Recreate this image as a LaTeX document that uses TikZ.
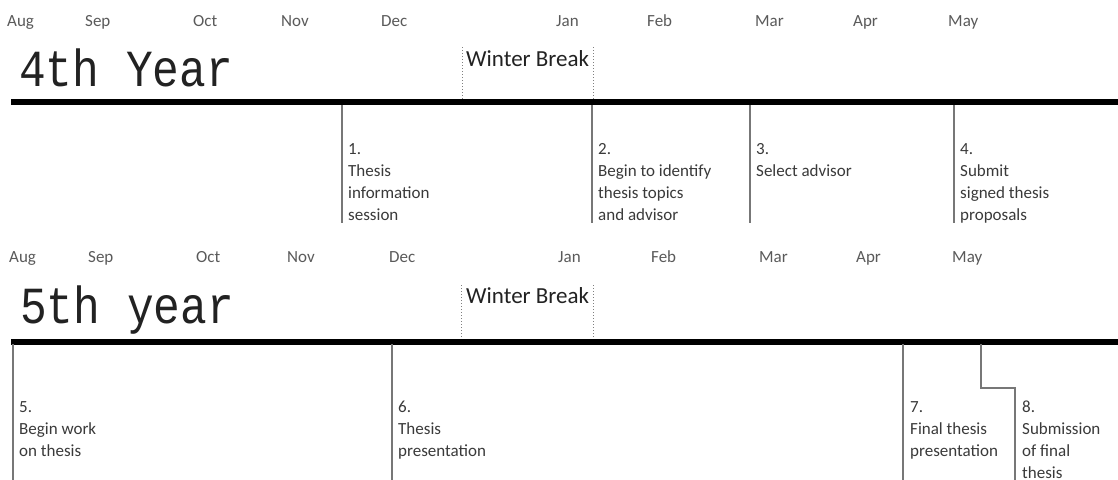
\documentclass[tikz,border=0pt]{standalone}
\usepackage{fontspec}
\setmainfont{Carlito}
\newfontfamily\titlefont{Liberation Mono}
\definecolor{monthgray}{HTML}{5A5A5A}
\definecolor{textgray}{HTML}{3A3A3A}
\definecolor{linegray}{HTML}{777777}
\definecolor{titlecol}{HTML}{222222}
\tikzset{
  monthlbl/.style={font=\fontsize{17}{17}\selectfont, text=monthgray, anchor=base west, inner sep=0pt},
  eventtxt/.style={font=\fontsize{17}{22}\selectfont, text=textgray, align=left, anchor=north west, inner sep=0pt},
  yeartitle/.style={font=\titlefont\fontsize{44.5}{44.5}\selectfont, text=titlecol, anchor=base west, inner sep=0pt},
  breaklbl/.style={font=\fontsize{23}{23}\selectfont, text=titlecol, anchor=base west, inner sep=0pt},
  timeline/.style={draw=black, line width=5.5pt},
  evline/.style={draw=linegray, line width=1.2pt},
  breakline/.style={draw=gray, dotted, line width=1pt}
}
\begin{document}
\begin{tikzpicture}[x=1pt,y=1pt]
\useasboundingbox (0,0) rectangle (1118,-479);
\clip (0,0) rectangle (1118,-479);
\fill[white] (0,0) rectangle (1118,-479);

% ---------- 4th year ----------
\foreach \m/\x in {Aug/7,Sep/85,Oct/193,Nov/281,Dec/381,Jan/556,Feb/647,Mar/755,Apr/853,May/948}
  \node[monthlbl] (top\m) at (\x,-27) {\m};

\node[yeartitle] (title4) at (19,-86) {\scalebox{1}[1.17]{4th Year}};
\node[breaklbl] (wb4) at (466,-66) {Winter Break};
\coordinate (wb4lt) at (462,-47);
\coordinate (wb4lb) at (462,-99);
\coordinate (wb4rt) at (593,-47);
\coordinate (wb4rb) at (593,-99);
\draw[breakline] (wb4lt) -- (wb4lb);
\draw[breakline] (wb4rt) -- (wb4rb);

\coordinate (tl4s) at (11,-102);
\coordinate (tl4e) at (1120,-102);
\draw[timeline] (tl4s) -- (tl4e);

\coordinate (e1t) at (342,-105); \coordinate (e1b) at (342,-223);
\coordinate (e2t) at (592,-105); \coordinate (e2b) at (592,-223);
\coordinate (e3t) at (750,-105); \coordinate (e3b) at (750,-223);
\coordinate (e4t) at (954,-105); \coordinate (e4b) at (954,-223);
\draw[evline] (e1t) -- (e1b);
\draw[evline] (e2t) -- (e2b);
\draw[evline] (e3t) -- (e3b);
\draw[evline] (e4t) -- (e4b);

\node[eventtxt] (ev1) at (348,-143) {1.\\Thesis\\information\\session};
\node[eventtxt] (ev2) at (598,-143) {2.\\Begin to identify\\thesis topics\\and advisor};
\node[eventtxt] (ev3) at (756,-143) {3.\\Select advisor};
\node[eventtxt] (ev4) at (960,-143) {4.\\Submit\\signed thesis\\proposals};

% ---------- 5th year ----------
\foreach \m/\x in {Aug/9,Sep/88,Oct/196,Nov/287,Dec/389,Jan/558,Feb/651,Mar/759,Apr/856,May/952}
  \node[monthlbl] (bot\m) at (\x,-262) {\m};

\node[yeartitle] (title5) at (20,-323) {\scalebox{1}[1.17]{5th year}};
\node[breaklbl] (wb5) at (466,-303) {Winter Break};
\coordinate (wb5lt) at (461,-285);
\coordinate (wb5lb) at (461,-339);
\coordinate (wb5rt) at (593,-285);
\coordinate (wb5rb) at (593,-339);
\draw[breakline] (wb5lt) -- (wb5lb);
\draw[breakline] (wb5rt) -- (wb5rb);

\coordinate (tl5s) at (11,-342);
\coordinate (tl5e) at (1120,-342);
\draw[timeline] (tl5s) -- (tl5e);

\coordinate (e5t) at (13,-344);  \coordinate (e5b) at (13,-480);
\coordinate (e6t) at (392,-344); \coordinate (e6b) at (392,-480);
\coordinate (e7t) at (903,-344); \coordinate (e7b) at (903,-480);
\coordinate (e8t) at (981,-344); \coordinate (e8m) at (1015,-388); \coordinate (e8b) at (1015,-480);
\draw[evline] (e5t) -- (e5b);
\draw[evline] (e6t) -- (e6b);
\draw[evline] (e7t) -- (e7b);
\draw[evline] (e8t) |- (e8m) -- (e8b);

\node[eventtxt] (ev5) at (19,-401) {5.\\Begin work\\on thesis};
\node[eventtxt] (ev6) at (398,-401) {6.\\Thesis\\presentation};
\node[eventtxt] (ev7) at (910,-401) {7.\\Final thesis\\presentation};
\node[eventtxt] (ev8) at (1022,-401) {8.\\Submission\\of final\\thesis};
\end{tikzpicture}
\end{document}
